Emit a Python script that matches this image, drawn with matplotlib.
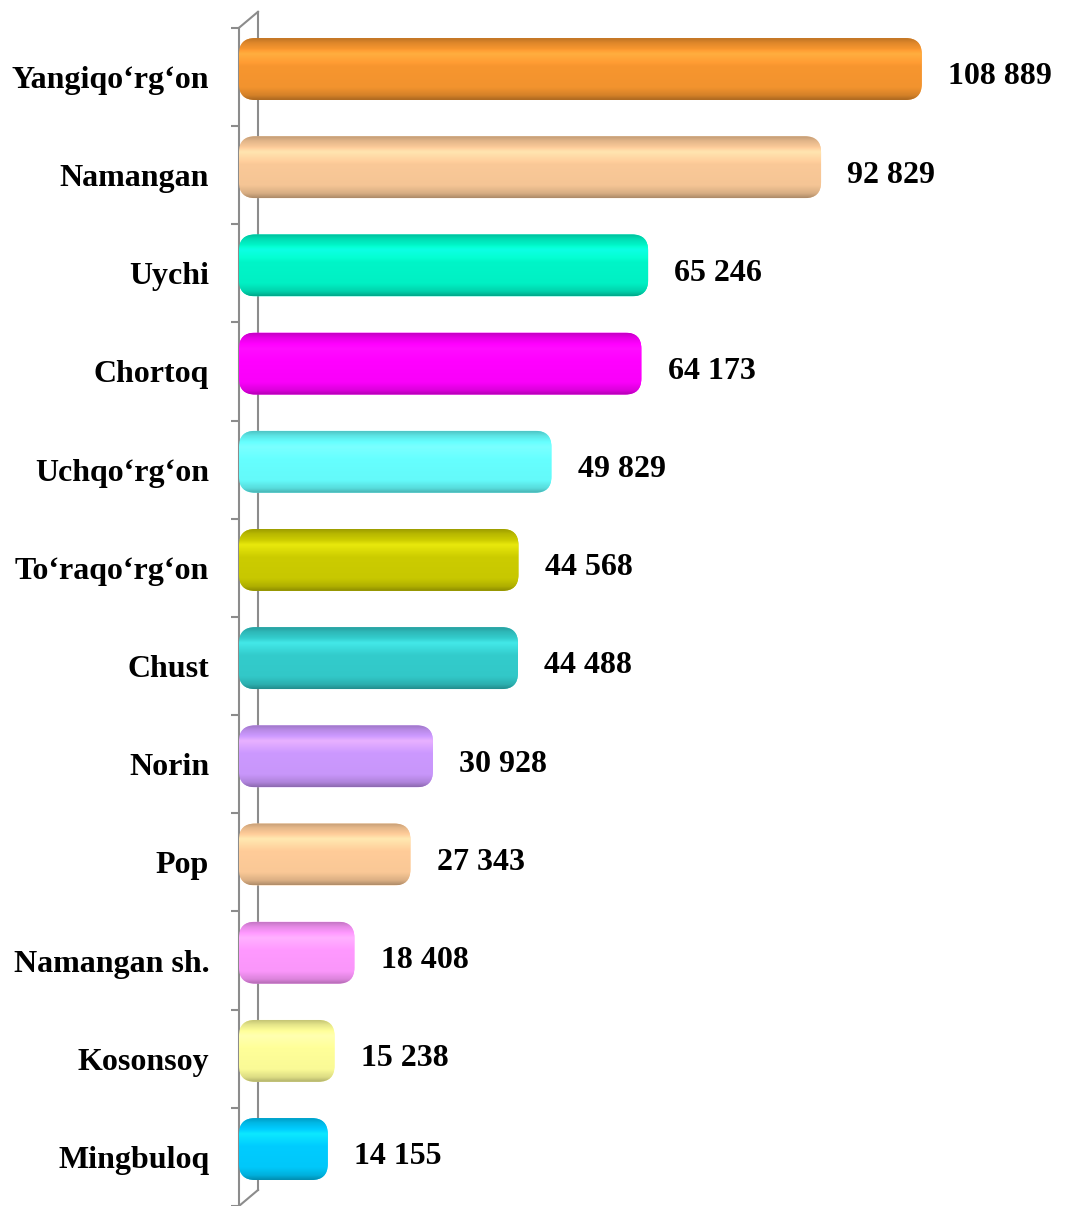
import matplotlib.pyplot as plt
import numpy as np
from matplotlib.patches import FancyBboxPatch
from matplotlib.colors import to_rgb
from matplotlib.transforms import ScaledTranslation

districts = ['Yangiqo‘rg‘on', 'Namangan', 'Uychi', 'Chortoq', 'Uchqo‘rg‘on',
             'To‘raqo‘rg‘on', 'Chust', 'Norin', 'Pop', 'Namangan sh.',
             'Kosonsoy', 'Mingbuloq']
values = [108889, 92829, 65246, 64173, 49829, 44568, 44488, 30928, 27343,
          18408, 15238, 14155]
colors = ['#F7962F', '#FAC998', '#00F5C8', '#FF00FF', '#66FFFF', '#CCCC00',
          '#33CCCC', '#CC99FF', '#FFCC99', '#FF99FF', '#FFFF99', '#00CCFF']

plt.rcParams['font.family'] = ['Liberation Serif', 'DejaVu Serif']

fig = plt.figure(figsize=(10.68, 12.06), dpi=100)
ax = fig.add_axes([239 / 1068, 0, 1 - 239 / 1068, 1])

y = np.arange(len(values))
xmax = (1068 - 239) / 0.00627
ax.set_xlim(0, xmax)
ax.set_ylim(11.485, -0.783)

bars = ax.barh(y - 0.08, values, height=0.63, color=colors)

# pixel -> data conversions for rounding
px_x = xmax / (1068 - 239)
px_y = (11.485 + 0.783) / 1206
rad = 16 * px_x


def shade(c):
    base = np.array(to_rgb(c))
    stops = [0.0, 0.07, 0.25, 0.45, 0.8, 0.93, 1.0]
    fac = [0.78, 0.9, 1.08, 1.0, 0.98, 0.86, 0.7]
    t = np.linspace(0, 1, 64)
    f = np.interp(t, stops, fac)[:, None]
    col = np.clip(base[None, :] * f + np.where(f > 1, (f - 1) * 0.6, 0), 0, 1)
    return col[:, None, :]


for bar, c in zip(bars, colors):
    x0, y0 = bar.get_x(), bar.get_y()
    w, h = bar.get_width(), bar.get_height()
    bar.set_visible(False)
    patch = FancyBboxPatch((x0, y0), w, h,
                           boxstyle=f'round,pad=0,rounding_size={rad}',
                           mutation_aspect=px_y / px_x,
                           facecolor=c, edgecolor='none', zorder=2)
    ax.add_patch(patch)
    im = ax.imshow(shade(c), extent=(x0, x0 + w, y0 + h, y0), aspect='auto',
                   zorder=3, interpolation='bilinear')
    im.set_clip_path(patch)

ax.set_xlim(0, xmax)
ax.set_ylim(11.485, -0.783)

for v, yy in zip(values, y):
    ax.annotate(f'{v:,}'.replace(',', ' '), (v, yy), xytext=(19, 0),
                textcoords='offset points', va='center', ha='left',
                fontsize=23, fontweight='bold')

ax.set_yticks(y)
ax.set_yticklabels(districts, fontsize=23, fontweight='bold')
ax.tick_params(axis='y', which='major', length=0, pad=21.5)
ax.set_yticks(np.arange(len(values) + 1) - 0.5, minor=True)
ax.tick_params(axis='y', which='minor', length=6, width=1.5, color='#8C8C8C')
ax.set_xticks([])

for s in ['top', 'right', 'bottom']:
    ax.spines[s].set_visible(False)
ax.spines['left'].set_bounds(-0.5, 11.5)
ax.spines['left'].set_color('#8C8C8C')
ax.spines['left'].set_linewidth(1.5)

# back wall of the 3D axis
back = ax.transData + ScaledTranslation(0.19, 0.16, fig.dpi_scale_trans)
ax.plot([0, 0], [-0.5, 11.5], color='#8C8C8C', lw=1.5, transform=back,
        zorder=1, clip_on=False)
for yy in [-0.5, 11.5]:
    p0 = ax.transData.transform((0, yy))
    p1 = back.transform((0, yy))
    ax.plot([p0[0], p1[0]], [p0[1], p1[1]], color='#8C8C8C', lw=1.5,
            transform=None, zorder=1, clip_on=False)

fig.savefig('out.png', dpi=100)
